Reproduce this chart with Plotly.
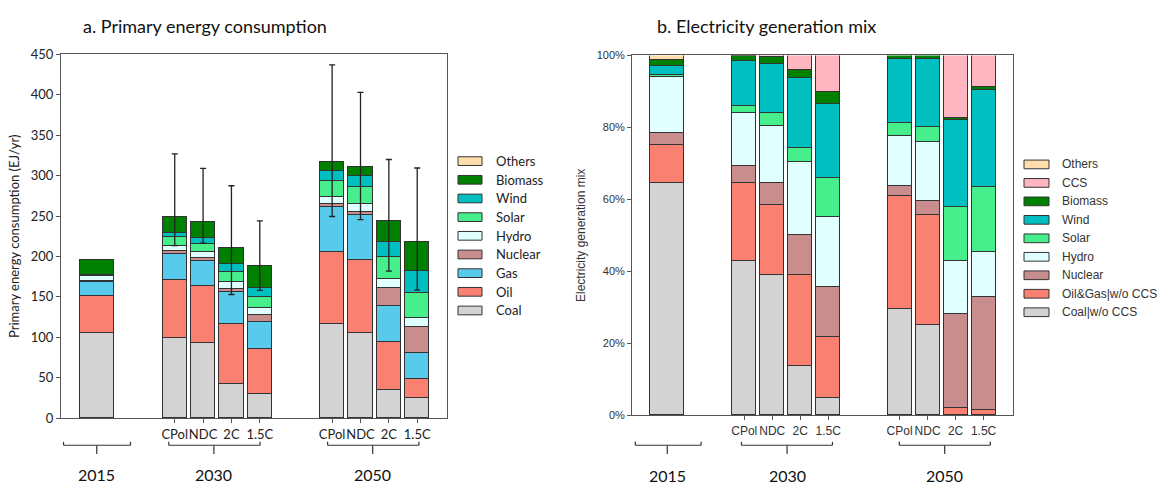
import plotly.graph_objects as go

# ---------------- data ----------------
years = ["2015", "2030", "2050"]
scenarios = ["CPol", "NDC", "2C", "1.5C"]
# column order: 2015, 2030 CPol/NDC/2C/1.5C, 2050 CPol/NDC/2C/1.5C

# a. primary energy consumption (EJ/yr), bottom to top of each stack
pe_fuels = ["Coal", "Oil", "Gas", "Nuclear", "Hydro", "Solar", "Wind", "Biomass", "Others"]
pe_coal = [105, 98.5, 92.5, 42, 29.5, 116, 105, 34, 25]
pe_oil = [46, 72.5, 70.5, 74, 55, 89.5, 90.5, 59.5, 22.5]
pe_gas = [17.5, 32, 30.5, 39, 34, 55.5, 55.5, 44.5, 32.5]
pe_nuclear = [1, 3, 4, 4, 8, 3.5, 3, 22.5, 32]
pe_hydro = [5.5, 6.5, 7, 9.5, 9, 8.5, 11, 11.5, 11.5]
pe_solar = [0.5, 11.5, 10, 12, 14, 20, 20.5, 26.5, 31]
pe_wind = [0.5, 5, 8, 10, 10.5, 12, 13, 19.5, 27]
pe_biomass = [19.5, 19.5, 20, 20, 28, 12, 12, 25.5, 35.5]
pe_others = [0, 0, 0, 0, 0, 0, 0, 0, 0]
# scenario range across models (EJ/yr); no range for 2015
pe_high = [None, 327, 309, 287.5, 244, 437, 403, 320, 309.5]
pe_low = [None, 213.5, 216.5, 153, 158, 249.5, 245.5, 182, 158.5]

# b. electricity generation mix (%), bottom to top of each stack
el_sources = ["Coal|w/o CCS", "Oil&Gas|w/o CCS", "Nuclear", "Hydro", "Solar",
              "Wind", "Biomass", "CCS", "Others"]
el_coal = [64.5, 42.8, 38.8, 13.5, 4.7, 29.3, 25.1, 0, 0]
el_oilgas = [10.6, 21.6, 19.5, 25.3, 16.8, 31.5, 30.5, 2.0, 1.3]
el_nuclear = [3.1, 4.8, 6.2, 11.1, 14.1, 2.7, 3.8, 26.0, 31.5]
el_hydro = [15.6, 14.6, 15.7, 20.3, 19.3, 14.0, 16.4, 14.8, 12.5]
el_solar = [0.6, 1.9, 3.6, 4.0, 10.8, 3.5, 4.3, 15.0, 18.0]
el_wind = [2.5, 12.5, 13.6, 19.5, 20.8, 17.9, 18.8, 24.1, 27.1]
el_biomass = [1.6, 1.6, 2.0, 2.1, 3.2, 1.0, 1.1, 0.7, 0.6]
el_ccs = [0, 0, 0.6, 4.2, 10.3, 0, 0, 17.4, 9.0]
el_others = [1.5, 0.2, 0, 0, 0, 0.1, 0, 0, 0]

# ---------------- styling ----------------
W, H = 1168, 490
C = {
    "Coal": "#d3d3d3", "Oil": "#fa8072", "Gas": "#58cbec", "Nuclear": "#c98d8d",
    "Hydro": "#e0ffff", "Solar": "#47ef8c", "Wind": "#00bfc0", "Biomass": "#008000",
    "Others": "#ffdead", "CCS": "#ffb6c1",
}
el_colors = [C["Coal"], C["Oil"], C["Nuclear"], C["Hydro"], C["Solar"],
             C["Wind"], C["Biomass"], C["CCS"], C["Others"]]
pe_colors = [C[f] for f in pe_fuels]

EDGE = "#333333"
AXIS = "#555555"
CAL = "Lato, sans-serif"
ARI = "Liberation Sans, Arial, sans-serif"

# bar slots on the numeric x axis: 2015 alone, then two groups of four scenarios
x_pos = [0, 2.75, 3.75, 4.75, 5.75, 8.3, 9.3, 10.3, 11.3]
widths = [1.2] + [0.85] * 8
x_range = [-1.26, 12.35]


def fx(px):
    return px / W


def fy(py):
    return 1 - py / H


fig = go.Figure()

pe_series = [pe_coal, pe_oil, pe_gas, pe_nuclear, pe_hydro, pe_solar,
             pe_wind, pe_biomass, pe_others]
for name, vals, col in zip(pe_fuels, pe_series, pe_colors):
    fig.add_trace(go.Bar(
        x=x_pos, y=vals, width=widths, name=name, showlegend=False,
        marker=dict(color=col, line=dict(color=EDGE, width=1)),
        xaxis="x", yaxis="y",
    ))

pe_total = [sum(v) for v in zip(*pe_series)]
err_x, err_y, err_up, err_dn = [], [], [], []
for xp, tot, hi, lo in zip(x_pos, pe_total, pe_high, pe_low):
    if hi is None:
        continue
    err_x.append(xp)
    err_y.append(tot)
    err_up.append(hi - tot)
    err_dn.append(tot - lo)
fig.add_trace(go.Scatter(
    x=err_x, y=err_y, mode="markers", marker=dict(size=1, color="rgba(0,0,0,0)"),
    showlegend=False, hoverinfo="skip", xaxis="x", yaxis="y",
    error_y=dict(type="data", symmetric=False, array=err_up, arrayminus=err_dn,
                 color="#222222", thickness=1.3, width=3),
))

el_series = [el_coal, el_oilgas, el_nuclear, el_hydro, el_solar, el_wind,
             el_biomass, el_ccs, el_others]
for name, vals, col in zip(el_sources, el_series, el_colors):
    fig.add_trace(go.Bar(
        x=x_pos, y=vals, width=widths, name=name, showlegend=False,
        marker=dict(color=col, line=dict(color=EDGE, width=1)),
        xaxis="x2", yaxis="y2",
    ))

common_x = dict(
    range=x_range, showline=True, linecolor=AXIS, linewidth=1, mirror=True,
    ticks="outside", ticklen=4, tickcolor=AXIS, showgrid=False, zeroline=False,
    tickvals=x_pos[1:], ticktext=scenarios * 2, tickangle=0,
)
fig.update_layout(
    width=W, height=H, margin=dict(l=0, r=0, t=0, b=0),
    paper_bgcolor="white", plot_bgcolor="white", barmode="stack", bargap=0,
    showlegend=False,
    xaxis=dict(domain=[fx(61), fx(447)], anchor="y",
               tickfont=dict(family=CAL, size=13, color="#222"), **common_x),
    yaxis=dict(domain=[fy(424), fy(48)], anchor="x", range=[0, 450], dtick=50,
               showline=True, linecolor=AXIS, linewidth=1, mirror=True,
               ticks="outside", ticklen=4, tickcolor=AXIS, showgrid=False,
               zeroline=False, tickfont=dict(family=CAL, size=13, color="#222"),
               title=dict(text="Primary energy consumption (EJ/yr)",
                          font=dict(family=CAL, size=13, color="#222"), standoff=8)),
    xaxis2=dict(domain=[fx(632), fx(1013)], anchor="y2",
                tickfont=dict(family=ARI, size=12, color="#333"), **common_x),
    yaxis2=dict(domain=[fy(421), fy(49)], anchor="x2", range=[0, 100], dtick=20,
                ticksuffix="%", showline=True, linecolor=AXIS, linewidth=1,
                mirror=True, ticks="outside", ticklen=4, tickcolor=AXIS,
                showgrid=False, zeroline=False,
                tickfont=dict(family=ARI, size=11, color="#333"),
                title=dict(text="Electricity generation mix",
                           font=dict(family=ARI, size=12, color="#333"), standoff=8)),
)

shapes, annots = [], []

# titles
for text, cx in [("a. Primary energy consumption", 205),
                 ("b. Electricity generation mix", 766)]:
    annots.append(dict(text=text, x=fx(cx), y=fy(19), xref="paper", yref="paper",
                       xanchor="center", yanchor="middle", showarrow=False,
                       font=dict(family=CAL, size=18, color="#111")))

# year brackets under the scenario labels
brackets = {
    "x": [(-1.17, 1.19, 0.0), (2.54, 5.76, 4.13), (8.14, 11.36, 9.73)],
    "x2": [(-1.14, 1.21, 0.0), (2.65, 5.9, 4.28), (8.29, 11.54, 9.91)],
}
year_y = {"x": 482, "x2": 483}
for xr, spans in brackets.items():
    for (a, b, c), yr in zip(spans, years):
        line = dict(color="#333", width=1.2)
        shapes.append(dict(type="line", xref=xr, yref="paper", x0=a, x1=b,
                           y0=fy(452), y1=fy(452), line=line))
        shapes.append(dict(type="line", xref=xr, yref="paper", x0=a, x1=a,
                           y0=fy(452), y1=fy(448.5), line=line))
        shapes.append(dict(type="line", xref=xr, yref="paper", x0=b, x1=b,
                           y0=fy(452), y1=fy(448.5), line=line))
        shapes.append(dict(type="line", xref=xr, yref="paper", x0=c, x1=c,
                           y0=fy(452), y1=fy(461), line=line))
        annots.append(dict(text=yr, x=c, y=fy(year_y[xr]), xref=xr, yref="paper",
                           xanchor="center", yanchor="middle", showarrow=False,
                           font=dict(family=CAL, size=16, color="#111")))


# legends drawn as swatch boxes with labels, top entry = top of the stack
def add_legend(names, colors, box_x0, box_x1, text_x, y0, dy, font):
    for i, (n, col) in enumerate(zip(reversed(names), reversed(colors))):
        yc = y0 + i * dy
        shapes.append(dict(type="rect", xref="paper", yref="paper",
                           x0=fx(box_x0), x1=fx(box_x1), y0=fy(yc - 4.5), y1=fy(yc + 4.5),
                           fillcolor=col, line=dict(color=EDGE, width=1)))
        annots.append(dict(text=n, x=fx(text_x), y=fy(yc), xref="paper", yref="paper",
                           xanchor="left", yanchor="middle", showarrow=False, font=font))


add_legend(pe_fuels, pe_colors, 458, 482, 494, 158.3, 19.3,
           dict(family=CAL, size=13, color="#222"))
add_legend(el_sources, el_colors, 1024, 1049, 1060, 161.7, 19.1,
           dict(family=ARI, size=12, color="#333"))

fig.update_layout(shapes=shapes, annotations=annots)
fig.write_html("out.html")
